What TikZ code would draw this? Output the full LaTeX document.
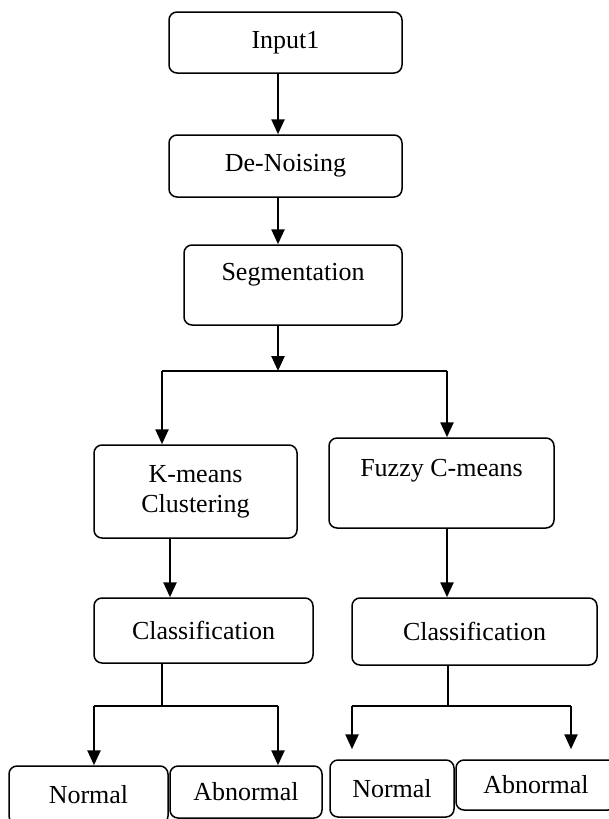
\documentclass[tikz,border=0pt]{standalone}
\usepackage{fontspec}
\setmainfont{Liberation Serif}
\usetikzlibrary{arrows.meta}

\begin{document}
\begin{tikzpicture}[x=1pt, y=-1pt, >={Triangle[width=13pt,length=15pt]},
    box/.style={draw, line width=1.5pt, rounded corners=8pt, align=center,
        inner sep=0pt, font=\fontsize{26}{30}\selectfont},
    arr/.style={->, line width=2.5pt},
    bar/.style={line width=2pt},
    link/.style={line width=1.4pt}]

\useasboundingbox (0,0) rectangle (609,819);

\node[box, minimum width=233pt, minimum height=61pt] (input) at (285.5,42.5) {Input1};
\node[box, minimum width=233pt, minimum height=62pt] (denoise) at (285.5,166) {De-Noising};
\node[box, minimum width=218pt, minimum height=80pt, text depth=25.7pt] (seg) at (293,285) {Segmentation};

\node[box, minimum width=203pt, minimum height=93pt] (kmeans) at (195.5,491.5) {K-means\\Clustering};
\node[box, minimum width=225pt, minimum height=90pt, text depth=29.7pt] (fuzzy) at (441.5,483) {Fuzzy C-means};

\node[box, minimum width=219pt, minimum height=65pt] (classL) at (203.5,630.5) {Classification};
\node[box, minimum width=245pt, minimum height=67pt] (classR) at (474.5,631.5) {Classification};

\node[box, minimum width=159pt, minimum height=58pt] (normL) at (88.5,795) {Normal};
\node[box, minimum width=152pt, minimum height=52pt] (abnL) at (246,792) {Abnormal};
\node[box, minimum width=124pt, minimum height=57pt] (normR) at (392,788.5) {Normal};
\node[box, minimum width=160pt, minimum height=50pt] (abnR) at (536,785) {Abnormal};

% junctions
\coordinate (split) at (278,371);
\coordinate (splitL) at (162,371);
\coordinate (splitR) at (447,371);
\coordinate (jL) at (162,706);
\coordinate (jL1) at (94,706);
\coordinate (jL2) at (278,706);
\coordinate (jR) at (448,706);
\coordinate (jR1) at (352,706);
\coordinate (jR2) at (571,706);

\draw[arr] ([xshift=-7.5pt]input.south) -- ([xshift=-7.5pt]denoise.north);
\draw[arr] ([xshift=-7.5pt]denoise.south) -- ([xshift=-15pt]seg.north);
\draw[arr] ([xshift=-15pt]seg.south) -- (split);

\draw[bar] (splitL) -- (splitR);
\draw[arr] (splitL) -- (splitL |- kmeans.north);
\draw[arr] (splitR) -- (splitR |- fuzzy.north);

\draw[arr] ([xshift=-25.5pt]kmeans.south) -- ([xshift=-33.5pt]classL.north);
\draw[arr] ([xshift=5.5pt]fuzzy.south) -- ([xshift=-27.5pt]classR.north);

\draw[link] ([xshift=-41.5pt]classL.south) -- (jL);
\draw[bar] (jL1) -- (jL2);
\draw[arr] (jL1) -- (jL1 |- normL.north);
\draw[arr] (jL2) -- (jL2 |- abnL.north);

\draw[link] ([xshift=-26.5pt]classR.south) -- (jR);
\draw[bar] (jR1) -- (jR2);
\draw[arr] (jR1) -- ([yshift=10pt]jR1 |- normR.north);
\draw[arr] (jR2) -- ([yshift=10pt]jR2 |- abnR.north);

\end{tikzpicture}
\end{document}
